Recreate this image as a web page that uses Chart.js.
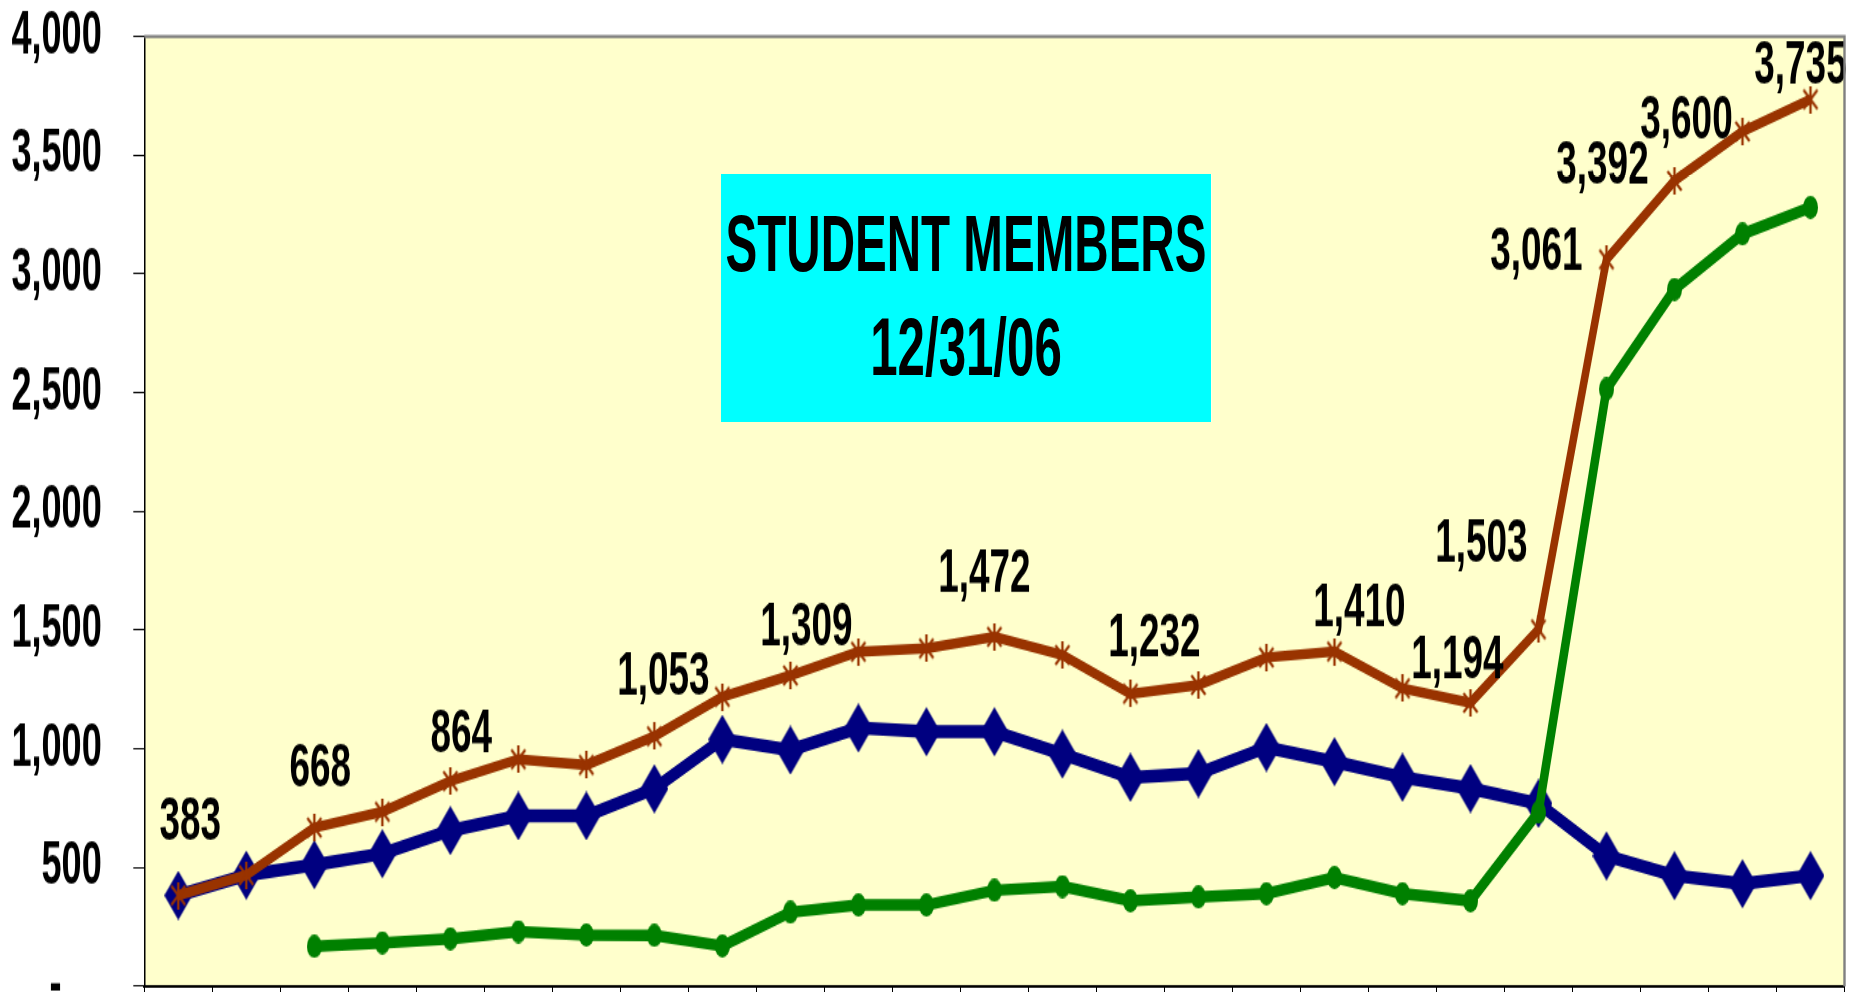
<!DOCTYPE html>
<html lang="en">
<head>
<meta charset="UTF-8">
<title>Student Members</title>
<style>
    html, body { margin: 0; padding: 0; background: #fff; overflow: hidden; }
    #page { position: relative; width: 1858px; height: 992px; overflow: hidden; }
    /* the original picture is stretched vertically, so the whole drawing is too */
    #wrap {
        position: absolute;
        left: 0;
        top: 0;
        width: 1858px;
        height: 750px;
        transform: scaleY(1.37);
        transform-origin: 0 0;
    }
    #titleBox {
        position: absolute;
        left: 721px;
        top: 127px;
        width: 490px;
        height: 180.8px;
        background: #00ffff;
        font-family: 'Liberation Sans', Arial, sans-serif;
        font-weight: bold;
        color: #000;
        white-space: nowrap;
    }
    #titleBox div {
        position: absolute;
        left: 50%;
        height: 60px;
        line-height: 60px;
        transform: translateX(-50%) scaleX(0.82);
    }
    .t1 { top: 21px; font-size: 58px; }
    .t2 { top: 97px; font-size: 60px; }
</style>
</head>
<body>
<div id="page">
    <div id="wrap">
        <canvas id="myChart" width="1858" height="750"></canvas>
        <div id="titleBox">
            <div class="t1">STUDENT MEMBERS</div>
            <div class="t2">12/31/06</div>
        </div>
    </div>
</div>

<script src="https://cdn.jsdelivr.net/npm/chart.js"></script>
<script>
    // years (x labels are cut off in the picture)
    const years = ['1982', '1983', '1984', '1985', '1986', '1987', '1988', '1989', '1990', '1991',
        '1992', '1993', '1994', '1995', '1996', '1997', '1998', '1999', '2000', '2001',
        '2002', '2003', '2004', '2005', '2006'];
    const totalMembers = [383, 468, 668, 735, 864, 956, 932, 1053, 1219, 1309, 1409, 1423, 1472,
        1395, 1232, 1269, 1385, 1410, 1255, 1194, 1503, 3061, 3392, 3600, 3735];
    const seriesBlue = [383, 468, 512, 558, 656, 718, 718, 832, 1040, 995, 1088, 1072, 1072,
        978, 880, 896, 1006, 946, 880, 833, 770, 549, 466, 432, 466];
    const seriesGreen = [null, null, 168, 183, 200, 230, 216, 214, 170, 312, 342, 342, 404,
        420, 360, 376, 390, 458, 390, 360, 733, 2515, 2935, 3168, 3280];
    const yTicks = [0, 500, 1000, 1500, 2000, 2500, 3000, 3500, 4000];
    // which totals carry a value label
    const labelledPoints = [0, 2, 4, 7, 9, 12, 14, 17, 19, 20, 21, 22, 23, 24];

    const FONT = "'Liberation Sans', Arial, sans-serif";
    const NARROW = 0.82; // Arial Narrow look

    function narrowText(ctx, text, x, y, align) {
        ctx.save();
        ctx.translate(x, y);
        ctx.scale(NARROW, 1);
        ctx.textAlign = align;
        ctx.fillText(text, 0, 0);
        ctx.restore();
    }

    // marker images (Excel style markers)
    function makeMarker(w, h, draw) {
        const c = document.createElement('canvas');
        c.width = w;
        c.height = h;
        draw(c.getContext('2d'), w, h);
        return c;
    }
    const diamond = makeMarker(28, 36, (g, w, h) => {
        g.fillStyle = '#000080';
        g.beginPath();
        g.moveTo(w / 2, 0);
        g.lineTo(w, h / 2);
        g.lineTo(w / 2, h);
        g.lineTo(0, h / 2);
        g.closePath();
        g.fill();
    });
    const asterisk = makeMarker(20, 20, (g, w, h) => {
        g.strokeStyle = '#993300';
        g.lineWidth = 2.4;
        g.beginPath();
        g.moveTo(w / 2, 0); g.lineTo(w / 2, h);
        g.moveTo(3, 3); g.lineTo(w - 3, h - 3);
        g.moveTo(w - 3, 3); g.lineTo(3, h - 3);
        g.stroke();
    });
    const blob = makeMarker(15, 17, (g, w, h) => {
        g.fillStyle = '#008000';
        g.beginPath();
        g.ellipse(w / 2, h / 2, w / 2, h / 2, 0, 0, Math.PI * 2);
        g.fill();
    });

    const plotFrame = {
        id: 'plotFrame',
        beforeDraw(chart) {
            const { ctx, chartArea: a } = chart;
            ctx.save();
            ctx.fillStyle = '#ffffcc';
            ctx.fillRect(a.left, a.top, a.right - a.left, a.bottom - a.top);
            ctx.restore();
        },
        afterDraw(chart) {
            const { ctx, chartArea: a } = chart;
            ctx.save();
            ctx.strokeStyle = '#808080';
            ctx.lineWidth = 2.4;
            ctx.beginPath();
            ctx.moveTo(a.left, a.top);
            ctx.lineTo(a.right, a.top);
            ctx.lineTo(a.right, a.bottom);
            ctx.stroke();
            // y tick labels, accounting style ("-" for zero)
            const y = chart.scales.y;
            ctx.fillStyle = '#000';
            ctx.font = 'bold 44px ' + FONT;
            ctx.textBaseline = 'middle';
            y.ticks.forEach((t) => {
                const txt = t.value === 0 ? '-\u2007\u2007' : t.value.toLocaleString('en-US');
                narrowText(ctx, txt, 101.7, y.getPixelForValue(t.value), 'right');
            });
            ctx.restore();
        }
    };

    // value labels on the total line, nudged like the hand placed ones in the original
    const nudges = {
        0: [12, -53], 2: [6, -43], 4: [11, -34], 7: [9, -43], 9: [16, -34],
        12: [-10, -45], 14: [24, -40], 17: [25, -31], 19: [-13, -30], 20: [-57, -62],
        21: [-70, -5], 22: [-72, -10], 23: [-56, -7.5], 24: [-10, -23.5]
    };
    const valueLabels = {
        id: 'valueLabels',
        afterDatasetsDraw(chart) {
            const { ctx } = chart;
            const meta = chart.getDatasetMeta(0);
            ctx.save();
            ctx.font = 'bold 45px ' + FONT;
            ctx.fillStyle = '#000';
            ctx.textBaseline = 'middle';
            labelledPoints.forEach((i) => {
                const pt = meta.data[i];
                const n = nudges[i] || [0, -35];
                narrowText(ctx, totalMembers[i].toLocaleString('en-US'), pt.x + n[0], pt.y + n[1], 'center');
            });
            ctx.restore();
        }
    };

    let ctx = document.getElementById('myChart').getContext('2d');
    let chart = new Chart(ctx, {
        type: 'line',
        data: {
            labels: years,
            datasets: [
                {
                    label: 'Total',
                    data: totalMembers,
                    borderColor: '#993300',
                    borderWidth: 7.5,
                    pointStyle: asterisk,
                    order: 0
                },
                {
                    label: 'Series 2',
                    data: seriesGreen,
                    borderColor: '#008000',
                    borderWidth: 8.5,
                    pointStyle: blob,
                    order: 1
                },
                {
                    label: 'Series 1',
                    data: seriesBlue,
                    borderColor: '#000080',
                    borderWidth: 9.5,
                    pointStyle: diamond,
                    order: 2
                }
            ]
        },
        options: {
            responsive: false,
            animation: false,
            devicePixelRatio: 1,
            elements: { line: { tension: 0 } },
            layout: { padding: { top: 26.6, right: 10.3, left: 0, bottom: 0 } },
            plugins: {
                legend: { display: false },
                tooltip: { enabled: false }
            },
            scales: {
                x: {
                    offset: true,
                    ticks: { display: false },
                    grid: { offset: true, drawOnChartArea: false, tickLength: 6, color: '#000', lineWidth: 1 },
                    border: { color: '#000', width: 2 },
                    afterFit: (s) => { s.height = 30.1; }
                },
                y: {
                    min: 0,
                    max: 4000,
                    afterBuildTicks: (s) => { s.ticks = yTicks.map((v) => ({ value: v })); },
                    ticks: { display: false },
                    grid: { drawOnChartArea: false, tickLength: 11, color: '#000', lineWidth: 1 },
                    border: { color: '#000', width: 1.5 },
                    afterFit: (s) => {
                        s.width = 144.3;
                        s.paddingTop = 0;
                        s.paddingBottom = 0;
                    }
                }
            }
        },
        plugins: [plotFrame, valueLabels]
    });
</script>
</body>
</html>
